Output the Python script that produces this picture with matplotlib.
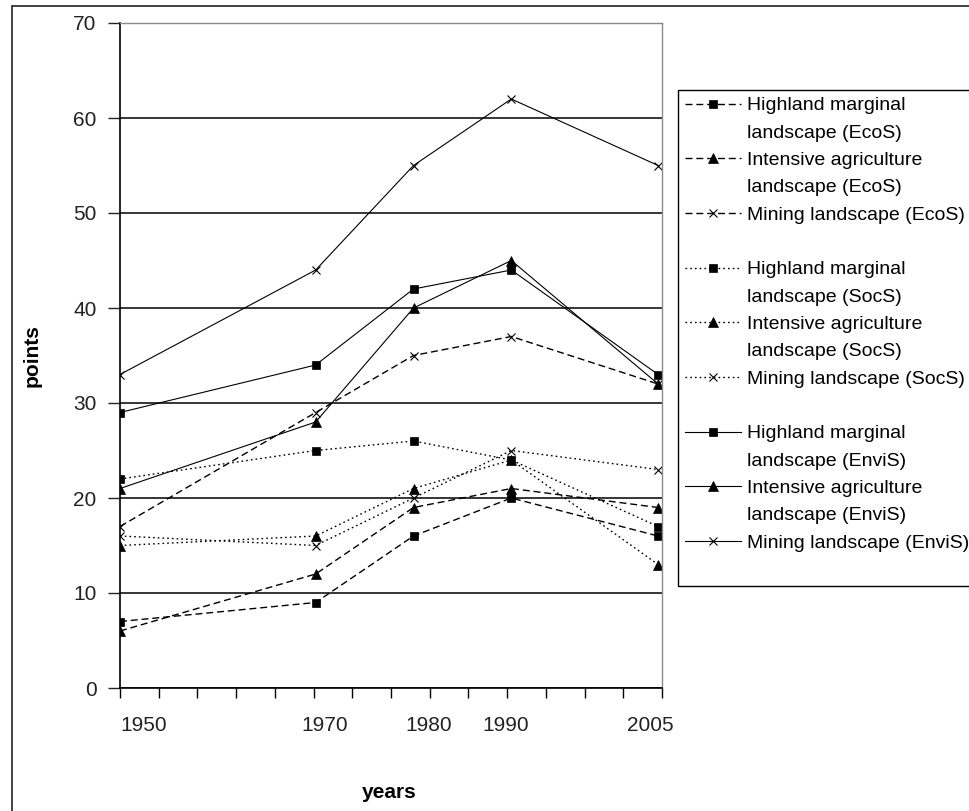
import numpy as np
import matplotlib.pyplot as plt
from matplotlib.lines import Line2D
from matplotlib.patches import Rectangle
import matplotlib.transforms as mtransforms

plt.rcParams['font.family'] = ['Liberation Sans', 'DejaVu Sans']
plt.rcParams['lines.scale_dashes'] = False

years = [1950, 1970, 1980, 1990, 2005]
year_labels = ['1950', '1970', '1980', '1990', '2005']
# label centres are a bit off the data years in the original
year_label_pos = [1952.4, 1970.9, 1981.6, 1989.4, 2004.2]

# EcoS
highland_ecos = [7, 9, 16, 20, 16]
intensive_ecos = [6, 12, 19, 21, 19]
mining_ecos = [17, 29, 35, 37, 32]
# SocS
highland_socs = [22, 25, 26, 24, 17]
intensive_socs = [15, 16, 21, 24, 13]
mining_socs = [16, 15, 20, 25, 23]
# EnviS
highland_envis = [29, 34, 42, 44, 33]
intensive_envis = [21, 28, 40, 45, 32]
mining_envis = [33, 44, 55, 62, 55]

groups = ['EcoS', 'SocS', 'EnviS']
series = {
    'EcoS': [highland_ecos, intensive_ecos, mining_ecos],
    'SocS': [highland_socs, intensive_socs, mining_socs],
    'EnviS': [highland_envis, intensive_envis, mining_envis],
}
ls_dict = {'EcoS': (0, (5, 2.8)), 'SocS': (0, (1.2, 2.2)), 'EnviS': '-'}
lw_dict = {'EcoS': 1.0, 'SocS': 1.0, 'EnviS': 0.8}
markers = ['s', '^', 'x']
msizes = [5.5, 6.5, 6]

fs = 15
fig = plt.figure(figsize=(9.69, 8.11), dpi=100)
ax = fig.add_axes([120/969, 1 - 688/811, 542/969, 665/811])

lines = {}
for g in groups:
    for ii in range(3):
        mk = markers[ii]
        l, = ax.plot(years, series[g][ii], color='k', ls=ls_dict[g], lw=lw_dict[g],
                     marker=mk, ms=msizes[ii], mfc='k', mec='k',
                     mew=0.8 if mk == 'x' else 0.5)
        lines[(g, ii)] = l

ax.set_xlim(1950, 2005.4)
ax.set_ylim(0, 70)
ax.set_yticks(np.arange(0, 71, 10))
ax.tick_params(axis='y', length=9, width=1, pad=8, labelsize=fs, colors='#222222')
ax.set_xticks([])
ax.set_xticks(np.linspace(1950, 2005.4, 15), minor=True)
ax.tick_params(axis='x', which='minor', length=7, width=1, direction='out')
ax.yaxis.grid(True, color='k', lw=1.1)
ax.set_axisbelow(True)
for s in ['top', 'right']:
    ax.spines[s].set_color('#8a8a8a')
    ax.spines[s].set_linewidth(1.0)
for s in ['left', 'bottom']:
    ax.spines[s].set_linewidth(1.2)

trans = mtransforms.blended_transform_factory(ax.transData, ax.transAxes)
for xp, lab in zip(year_label_pos, year_labels):
    ax.text(xp, -0.057, lab, transform=trans, ha='center', va='center', fontsize=fs, color='#222222')

ax.set_ylabel('points', fontsize=fs, fontweight='bold', labelpad=0)
ax.yaxis.set_label_coords((42 - 120) / 542, (688 - 356) / 665)
fig.text(389/969, 1 - 792/811, 'years', ha='center', va='center', fontsize=fs, fontweight='bold')

# legend, one row per text line like the original
blank = Line2D([], [], ls='none')
handles = []
labels = []
for gi, g in enumerate(groups):
    handles += [lines[(g, 0)], blank, lines[(g, 1)], blank, lines[(g, 2)]]
    labels += ['Highland marginal', 'landscape (%s)' % g,
               'Intensive agriculture', 'landscape (%s)' % g,
               'Mining landscape (%s)' % g]
    handles.append(blank)
    labels.append(' ')

leg = fig.legend(handles, labels, loc='upper left', bbox_to_anchor=(678/969, 1 - 90/811),
                 bbox_transform=fig.transFigure, borderaxespad=0, fontsize=14,
                 frameon=True, fancybox=False, edgecolor='k', framealpha=1,
                 handlelength=2.9, handletextpad=0.3, labelspacing=0.5, borderpad=0.35)
leg.get_frame().set_linewidth(1.0)

# outer chart border (cut off at the right and bottom in the original)
fig.add_artist(Rectangle((12/969, -0.2), 2, 1.2 - 6/811, fill=False, ec='#333333', lw=1.3,
                         transform=fig.transFigure))

fig.savefig('out.png', dpi=100)
